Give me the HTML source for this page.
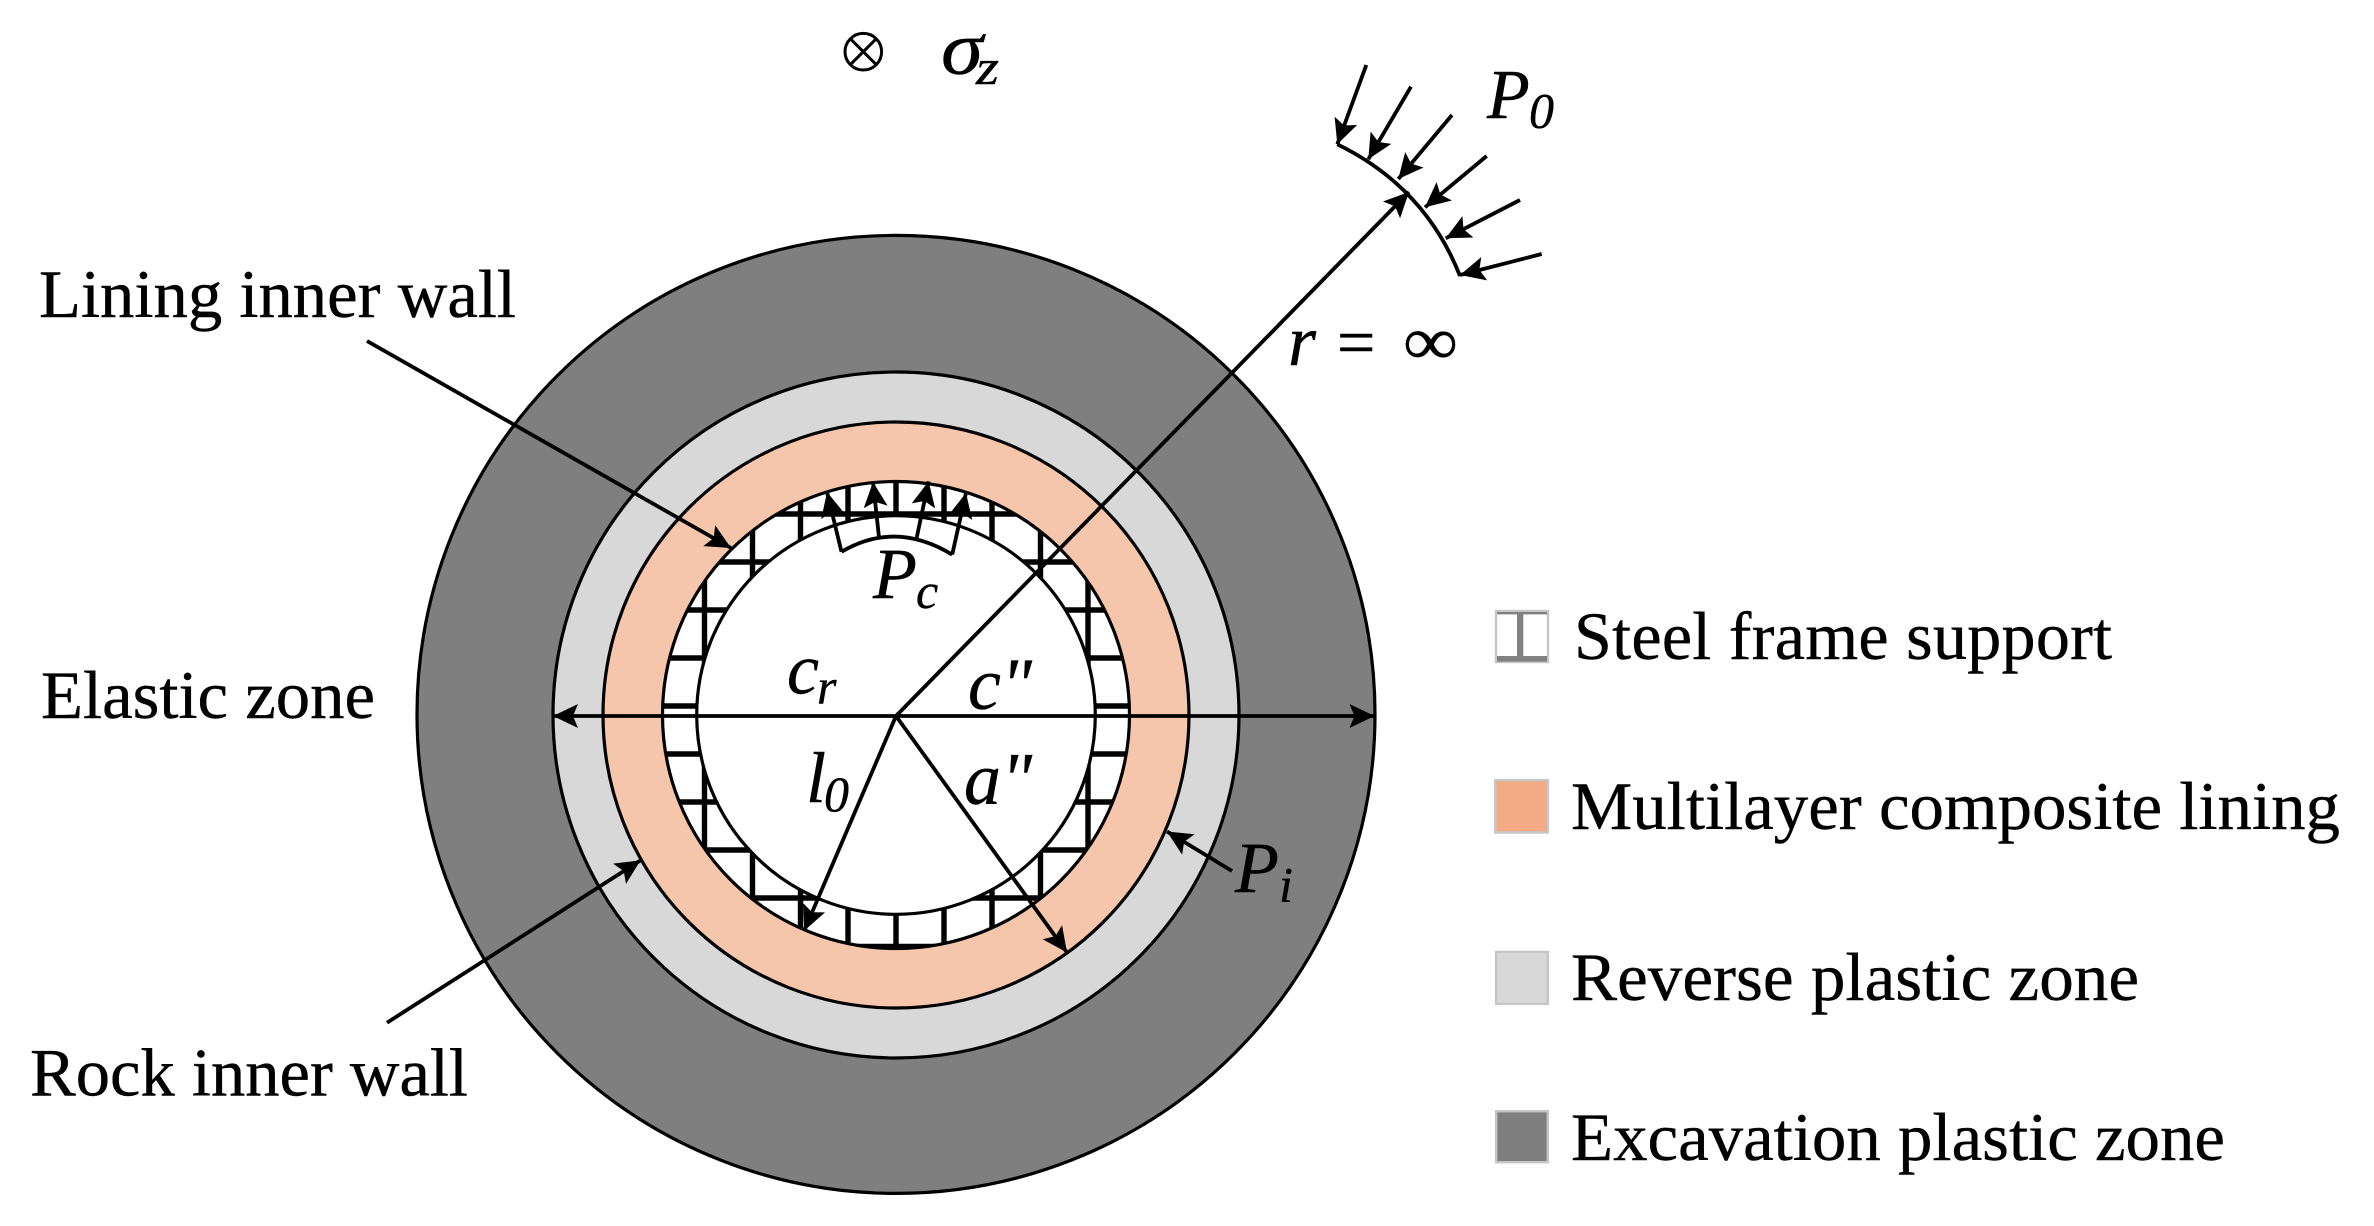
<!DOCTYPE html>
<html><head><meta charset="utf-8"><style>
html,body{margin:0;padding:0;background:#fff;width:2374px;height:1226px;overflow:hidden}
svg{display:block}
text{font-family:"Liberation Serif",serif;font-size:68px;fill:#000;stroke:#000;stroke-width:0.4}
.i{font-style:italic}
.s{font-style:italic;font-size:50px}
.l{stroke:#000;stroke-width:3.8;fill:none}
.a{stroke:#000;stroke-width:3.8;fill:none;marker-end:url(#h)}
.c{stroke:#000;stroke-width:3.2}
</style></head><body>
<svg width="2374" height="1226" viewBox="0 0 2374 1226" xmlns="http://www.w3.org/2000/svg">
<defs>
<marker id="h" markerUnits="userSpaceOnUse" markerWidth="30" markerHeight="30" refX="25" refY="13" orient="auto" overflow="visible">
<path d="M25,13 L0,1 L5,13 L0,25 Z" fill="#000"/>
</marker>
<clipPath id="ring"><circle cx="896" cy="715" r="233.5"/></clipPath>
</defs>
<rect width="2374" height="1226" fill="#fff"/>

<circle class="c" cx="896" cy="714.4" r="479" fill="#7f7f7f"/>
<circle class="c" cx="896" cy="715" r="343" fill="#d8d8d8"/>
<circle class="c" cx="896" cy="715" r="293" fill="#f5c6ab"/>
<circle cx="896" cy="715" r="233.5" fill="#fff"/>
<g clip-path="url(#ring)" stroke="#000" stroke-width="5.4">
<path d="M704.5,470V960M752.5,470V960M800.5,470V960M848,470V960M896,470V960M944,470V960M992,470V960M1040.5,470V960M1088,470V960"/>
<path d="M650,514H1140M650,562H1140M650,610H1140M650,658H1140M650,706H1140M650,754H1140M650,802H1140M650,850H1140M650,898H1140M650,946.5H1140"/>
</g>
<circle class="c" cx="896" cy="715" r="233.5" fill="none"/>
<circle class="c" cx="896" cy="715" r="199.3" fill="#fff"/>

<path class="a" d="M896,716H553"/>
<path class="a" d="M896,716H1374.5"/>
<path class="a" d="M896,716L1409,192"/>
<path class="a" d="M896,716L804.2,930.7"/>
<path class="a" d="M896,716L1067,952.5"/>
<path class="a" d="M367,341L731,548"/>
<path class="a" d="M387,1022.7L640.6,860.3"/>
<path class="a" d="M1232,871L1167,831.5"/>

<path class="l" d="M841.5,551.8Q895,520 952.2,554.6"/>
<path class="a" d="M841.5,551.8L827,492"/>
<path class="a" d="M879,537.5L873,482"/>
<path class="a" d="M916.5,538.6L928.6,481.4"/>
<path class="a" d="M952.2,554.6L966,493"/>

<path class="l" d="M1337.3,144.3Q1425,187 1460,276"/>
<path class="a" d="M1366.3,65L1337.3,144.3"/>
<path class="a" d="M1411,86.7L1368.3,159.3"/>
<path class="a" d="M1452,115L1398.3,179"/>
<path class="a" d="M1486.7,156L1425,207.3"/>
<path class="a" d="M1520,200L1445.7,238.3"/>
<path class="a" d="M1541.7,254L1460,275"/>

<circle cx="863.3" cy="51.7" r="18.3" fill="none" stroke="#000" stroke-width="3"/>
<path d="M850.4,38.8L876.2,64.6M876.2,38.8L850.4,64.6" stroke="#000" stroke-width="3"/>
<text class="i" x="941" y="74" style="font-size:76px" textLength="42" lengthAdjust="spacingAndGlyphs">σ</text>
<text class="s" x="976" y="84" textLength="23" lengthAdjust="spacingAndGlyphs">z</text>

<text x="39" y="317" textLength="477" lengthAdjust="spacingAndGlyphs">Lining inner wall</text>
<text x="41" y="718" textLength="334" lengthAdjust="spacingAndGlyphs">Elastic zone</text>
<text x="30" y="1095.7" textLength="438" lengthAdjust="spacingAndGlyphs">Rock inner wall</text>

<text class="i" x="873" y="598" style="font-size:72px">P</text><text class="s" x="916" y="608">c</text>
<text class="i" x="787" y="693.6" style="font-size:72px">c</text><text class="s" x="817" y="703.6">r</text>
<text class="i" x="968" y="709" style="font-size:74px">c"</text>
<text class="i" x="806" y="802" style="font-size:72px">l</text><text class="s" x="824" y="811">0</text>
<text class="i" x="964" y="803.6" style="font-size:74px">a"</text>
<text class="i" x="1235" y="892" style="font-size:72px">P</text><text class="s" x="1279" y="901.5">i</text>
<text class="i" x="1487" y="118" style="font-size:70px">P</text><text class="s" x="1529" y="127.7">0</text>
<text class="i" x="1288" y="365" style="font-size:72px">r</text>
<text x="1337" y="365">=</text>
<text x="1403" y="364" textLength="55" lengthAdjust="spacingAndGlyphs">∞</text>

<rect x="1496" y="611" width="52" height="51" fill="#fff" stroke="#c6c6c6" stroke-width="2.4"/>
<rect x="1497" y="612" width="50" height="2.4" fill="#808080"/>
<rect x="1517" y="612" width="6.3" height="49" fill="#808080"/>
<rect x="1497" y="656" width="50" height="5.6" fill="#808080"/>
<rect x="1495.2" y="780.2" width="52.6" height="52.3" fill="#f2ab85" stroke="#c6c6c6" stroke-width="2.4"/>
<rect x="1496.2" y="951.9" width="51.6" height="52" fill="#d8d8d8" stroke="#c6c6c6" stroke-width="2.4"/>
<rect x="1496.2" y="1111.2" width="51.6" height="51" fill="#7f7f7f" stroke="#c6c6c6" stroke-width="2.4"/>

<text x="1574" y="659" textLength="538" lengthAdjust="spacing">Steel  frame support</text>
<text x="1571" y="829" textLength="769" lengthAdjust="spacingAndGlyphs">Multilayer composite lining</text>
<text x="1571" y="999.8" textLength="568" lengthAdjust="spacingAndGlyphs">Reverse plastic zone</text>
<text x="1571" y="1159.8" textLength="654" lengthAdjust="spacingAndGlyphs">Excavation plastic zone</text>
</svg>
</body></html>
